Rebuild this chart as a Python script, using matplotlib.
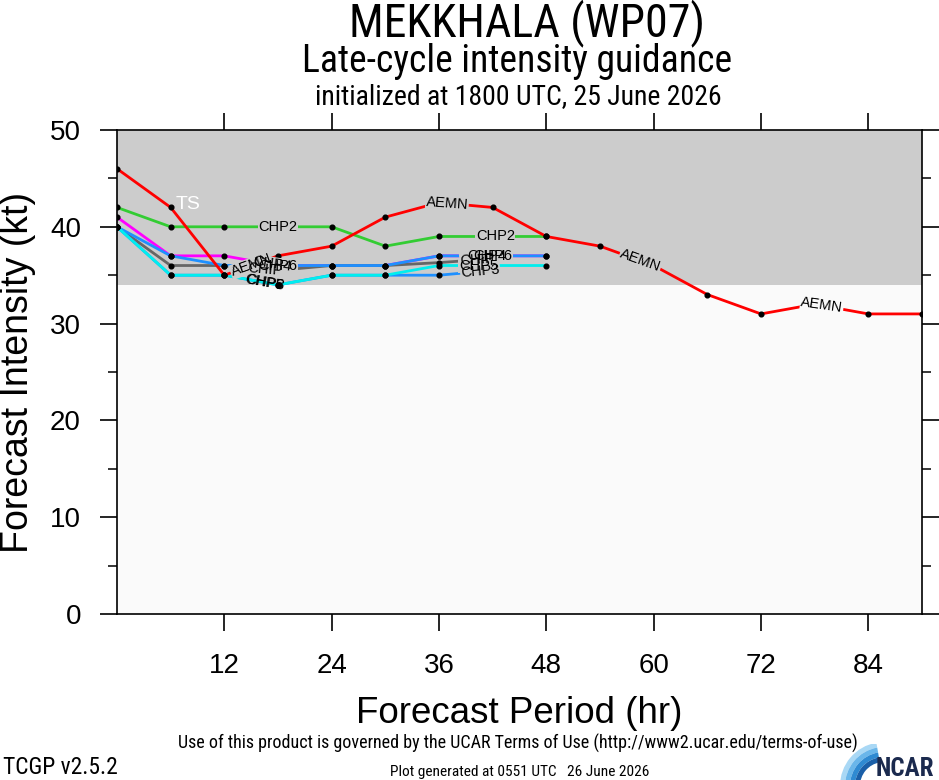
import numpy as np
import matplotlib
matplotlib.use("Agg")
import matplotlib.pyplot as plt
from matplotlib.patches import Wedge

# ---------------- data ----------------
hours_long = [0, 6, 12, 18, 24, 30, 36, 42, 48, 54, 60, 66, 72, 78, 84, 90]
hours_48 = [0, 6, 12, 18, 24, 30, 36, 42, 48]
hours_42 = [0, 6, 12, 18, 24, 30, 36, 42]

aemn = [46, 42, 35, 37, 38, 41, 42.5, 42, 39, 38, 36, 33, 31, 32, 31, 31]
chp2 = [42, 40, 40, 40, 40, 38, 39, 39, 39]
chp4 = [41, 37, 37, 36, 36, 36, 37, 37, 37]
chip = [40, 36, 36, 35.5, 36, 36, 36.3, 36.7]
chp6 = [40, 37, 36, 36, 36, 36, 37, 37, 37]
chp3 = [40, 35, 35, 34, 35, 35, 35, 35.5]
chp5 = [40, 35, 35, 34, 35, 35, 36, 36, 36]

ts_threshold = 34
x_ticks = [12, 24, 36, 48, 60, 72, 84]
y_ticks = [0, 10, 20, 30, 40, 50]

# (name, hours, values, color, label x positions)
series = [
    ("CHP2", hours_48, chp2, "#33cc33", [18, 42.3]),
    ("CHP4", hours_48, chp4, "#ff00ff", [17.3, 41.3]),
    ("CHIP", hours_42, chip, "#666666", [16.5, 40.3]),
    ("CHP6", hours_48, chp6, "#1e90ff", [18, 42]),
    ("CHP3", hours_42, chp3, "#1e90ff", [16.6, 40.6]),
    ("CHP5", hours_48, chp5, "#00eeee", [16.4, 40.4]),
    ("AEMN", hours_long, aemn, "#ff0000", [15, 36.9, 58.5, 78.8]),
]

COND = ["Roboto Condensed", "DejaVu Sans Condensed", "Open Sans Condensed",
        "Liberation Sans Narrow", "Liberation Sans", "DejaVu Sans"]
REG = ["Liberation Sans", "DejaVu Sans"]

def ctext(x, y, s, size, **kw):
    fig.text(x / 939, 1 - y / 780, s, fontsize=size, family=COND,
             fontstretch="condensed", va="center", **kw)

fig = plt.figure(figsize=(9.39, 7.80), dpi=100)
ax = fig.add_axes([117/939, 1-614/780, (922-117)/939, (614-130)/780])
ax.set_xlim(0, 90)
ax.set_ylim(0, 50)
ax.set_facecolor("#fafafa")
ax.axhspan(ts_threshold, 50, color="#cccccc", zorder=0, lw=0)

for i, (name, hrs, vals, col, lab_x) in enumerate(series):
    ax.plot(hrs, vals, color=col, lw=2.0, zorder=2 + i * 0.1, solid_capstyle="butt")

for i, (name, hrs, vals, col, lab_x) in enumerate(series):
    ax.plot(hrs, vals, ls="none", marker="o", ms=3.4, color="black", zorder=4)

# line labels: a gap in the line (box) below, text above
fig.canvas.draw()
for i, (name, hrs, vals, col, lab_x) in enumerate(series):
    for lx in lab_x:
        ly = float(np.interp(lx, hrs, vals))
        p0 = ax.transData.transform((lx - 1.0, np.interp(lx - 1.0, hrs, vals)))
        p1 = ax.transData.transform((lx + 1.0, np.interp(lx + 1.0, hrs, vals)))
        ang = np.degrees(np.arctan2(p1[1] - p0[1], p1[0] - p0[0]))
        bg = "#cccccc" if ly > ts_threshold else "#fafafa"
        common = dict(fontsize=10.5, family=REG, ha="center", va="center",
                      rotation=ang, rotation_mode="anchor")
        if abs(ly - ts_threshold) > 0.8:
            ax.text(lx, ly, name, color="none", zorder=4.5,
                    bbox=dict(boxstyle="square,pad=0.04", fc=bg, ec="none"), **common)
        ax.text(lx, ly, name, color="black", zorder=6, **common)

ax.text(6.6, 42.3, "TS", fontsize=14, family=REG, color="white",
        ha="left", va="center", zorder=6)

# axes styling
for s in ax.spines.values():
    s.set_linewidth(1.2)
    s.set_zorder(7)
ax.set_xticks(x_ticks)
ax.set_yticks(y_ticks)
ax.set_yticks(np.arange(5, 50, 10), minor=True)
ax.tick_params(which="major", direction="out", length=12, width=1.2,
               top=True, right=True, labelsize=20, pad=14)
ax.tick_params(which="minor", direction="out", length=6.5, width=1.1,
               left=True, right=True)
ax.tick_params(axis="x", which="minor", bottom=False, top=False)
ax.tick_params(axis="x", which="major", pad=16)
for lab in ax.get_xticklabels() + ax.get_yticklabels():
    lab.set_family(REG)

ax.set_xlabel("Forecast Period (hr)", fontsize=26.5, family=REG, labelpad=12)
ax.set_ylabel("Forecast Intensity (kt)", fontsize=27, family=REG, labelpad=10)

# titles
ctext(527, 23, "MEKKHALA (WP07)", 33, ha="center")
ctext(517, 62, "Late-cycle intensity guidance", 27.1, ha="center")
ctext(518, 97, "initialized at 1800 UTC, 25 June 2026", 20, ha="center")

# footer
ctext(518, 743, "Use of this product is governed by the UCAR Terms of Use "
      "(http://www2.ucar.edu/terms-of-use)", 13.0, ha="center")
ctext(3, 767, "TCGP v2.5.2", 16.9, ha="left")
ctext(520, 772, "Plot generated at 0551 UTC   26 June 2026", 11.1, ha="center")

# NCAR logo
lax = fig.add_axes([836/939, 0, 103/939, 36/780])
lax.set_xlim(0, 103)
lax.set_ylim(0, 36)
lax.axis("off")
blues = ["#a9d8f5", "#6ab6ea", "#2f8ad2", "#1a5fa8"]
for k, c in enumerate(blues):
    lax.add_patch(Wedge((48, -6), 44 - k * 5, 100, 180, width=5, color=c, lw=0))
lax.text(98, 11, "NCAR", fontsize=18, family=COND, fontstretch="condensed",
         fontweight="bold", color="#1b2a4e", ha="right", va="center")

fig.savefig("out.png", dpi=100)
